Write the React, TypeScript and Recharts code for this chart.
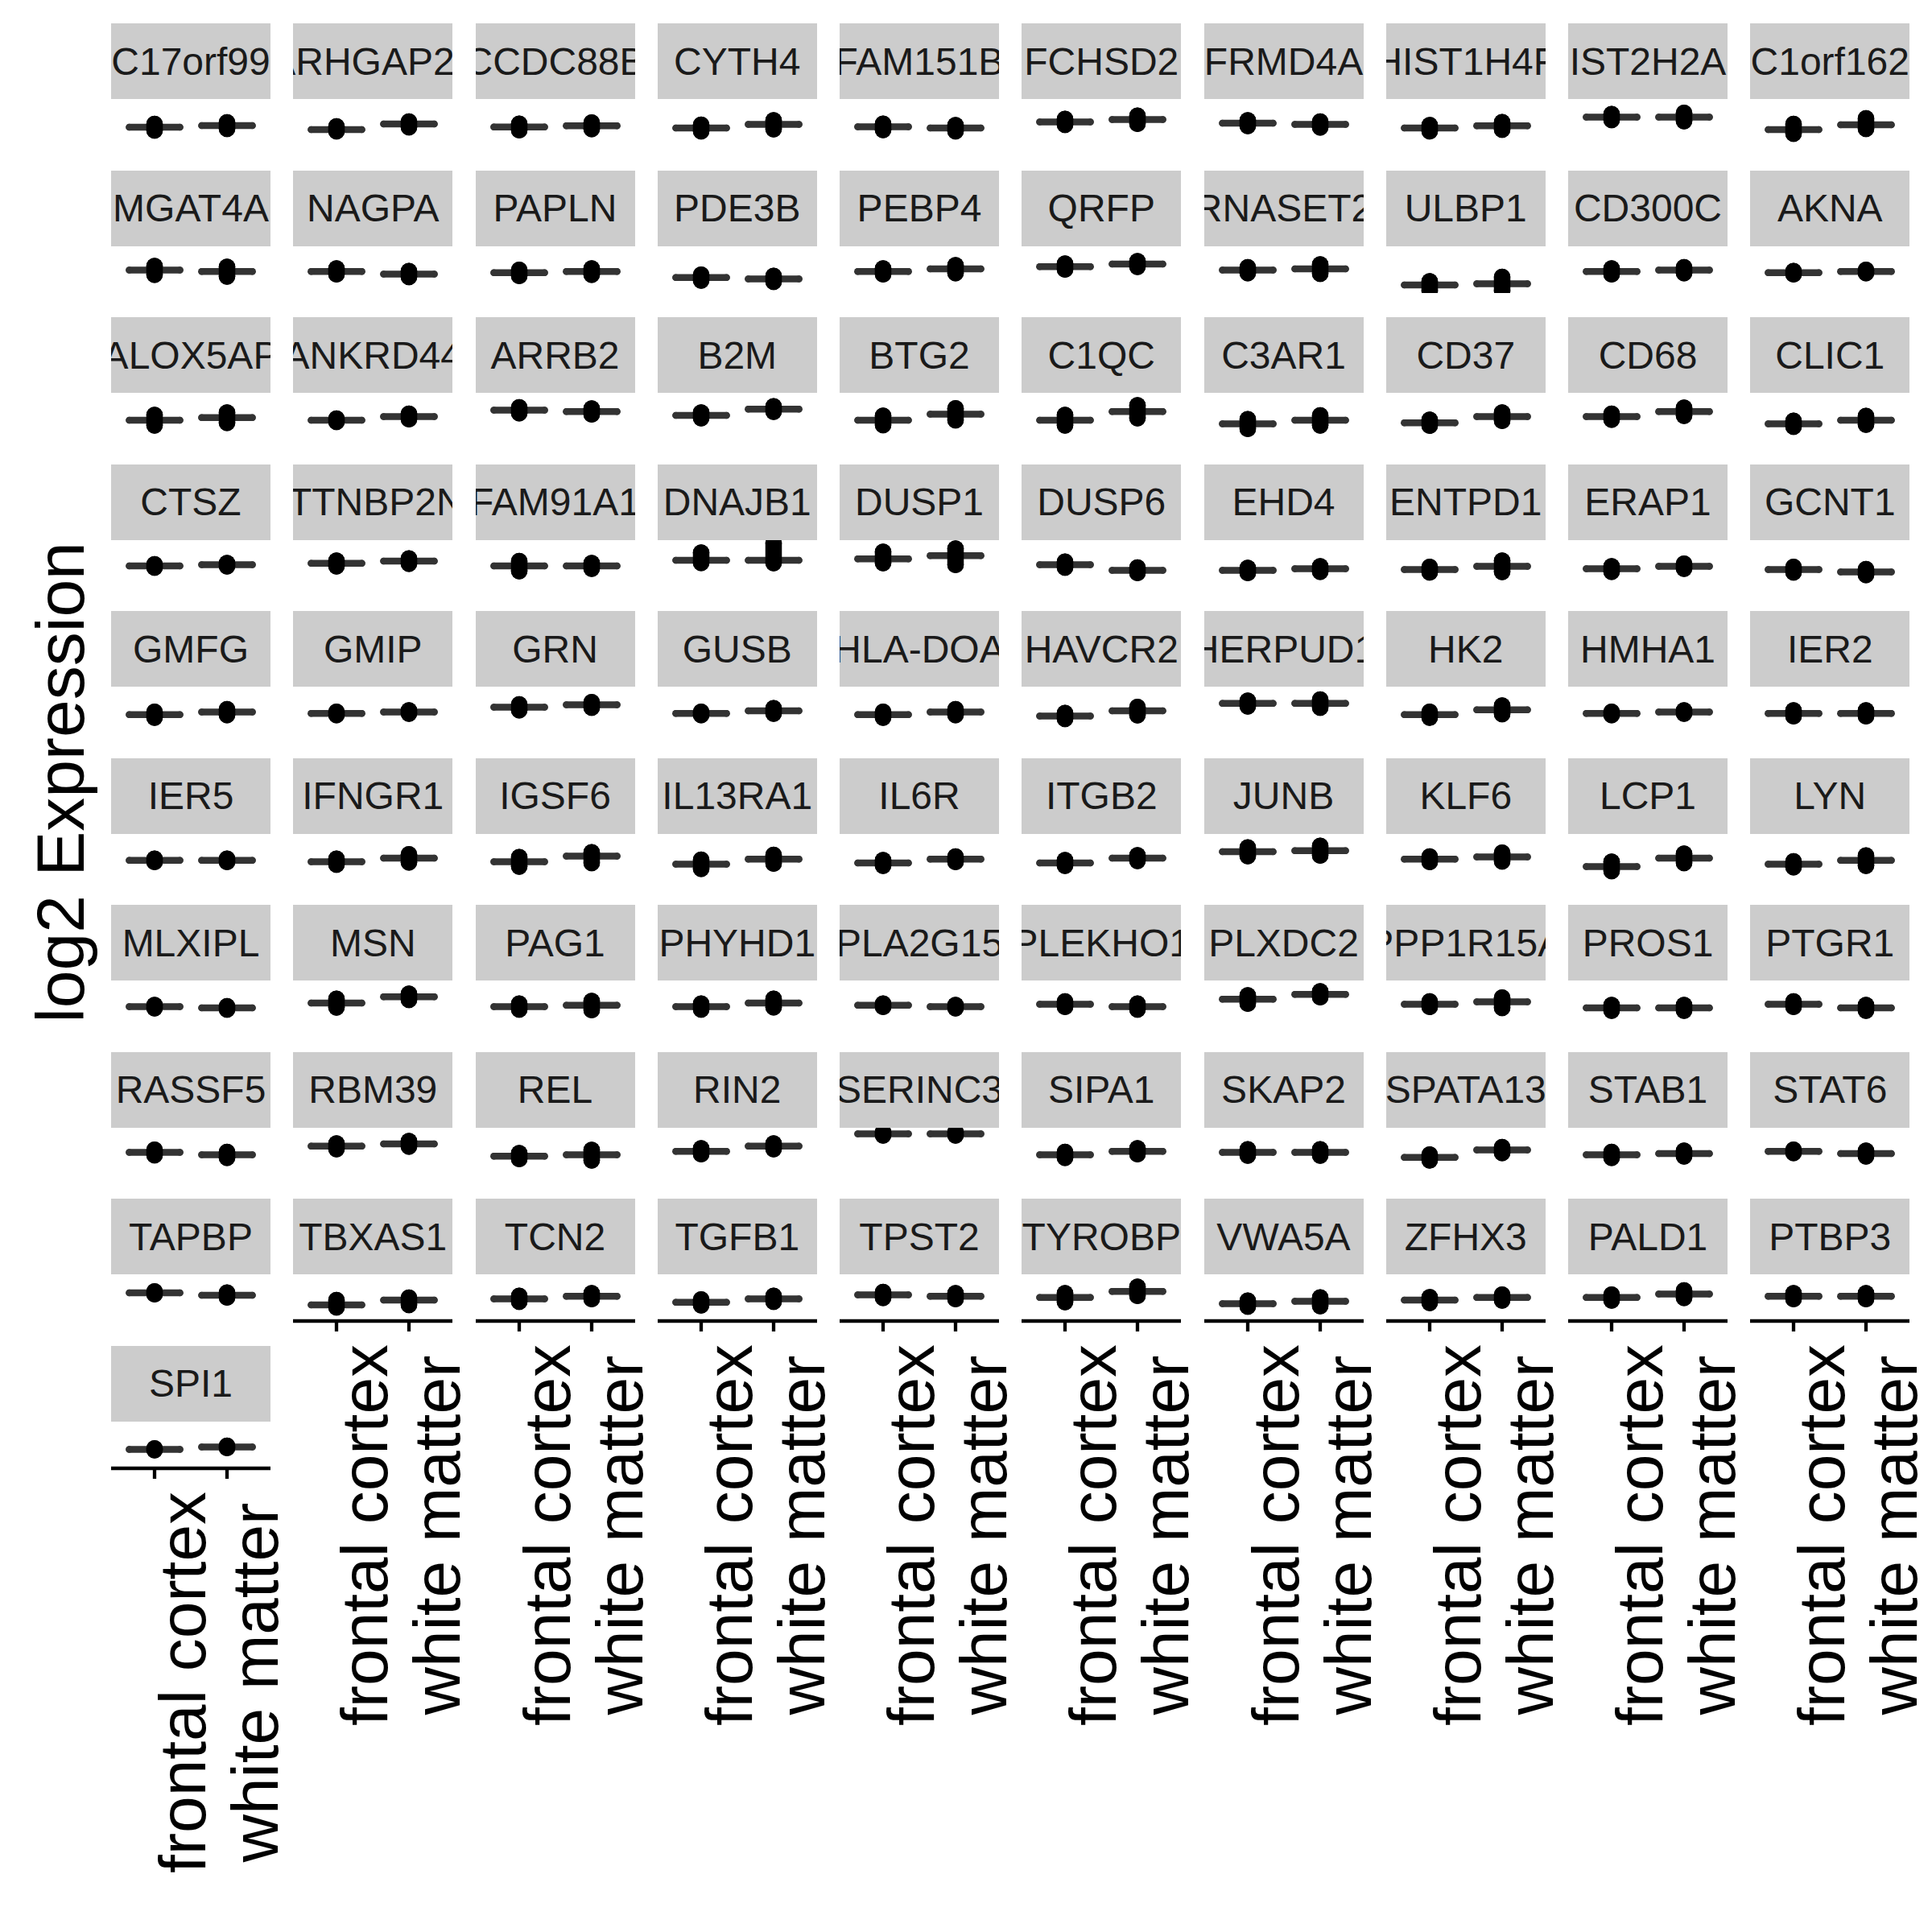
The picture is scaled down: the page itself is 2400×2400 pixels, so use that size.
import { ComposedChart, ErrorBar, Scatter, XAxis, YAxis } from "recharts";

const genes = [
  "C17orf99", "ARHGAP25", "CCDC88B", "CYTH4", "FAM151B", "FCHSD2", "FRMD4A", "HIST1H4F", "HIST2H2AC", "C1orf162",
  "MGAT4A", "NAGPA", "PAPLN", "PDE3B", "PEBP4", "QRFP", "RNASET2", "ULBP1", "CD300C", "AKNA",
  "ALOX5AP", "ANKRD44", "ARRB2", "B2M", "BTG2", "C1QC", "C3AR1", "CD37", "CD68", "CLIC1",
  "CTSZ", "CTTNBP2NL", "FAM91A1", "DNAJB1", "DUSP1", "DUSP6", "EHD4", "ENTPD1", "ERAP1", "GCNT1",
  "GMFG", "GMIP", "GRN", "GUSB", "HLA-DOA", "HAVCR2", "HERPUD1", "HK2", "HMHA1", "IER2",
  "IER5", "IFNGR1", "IGSF6", "IL13RA1", "IL6R", "ITGB2", "JUNB", "KLF6", "LCP1", "LYN",
  "MLXIPL", "MSN", "PAG1", "PHYHD1", "PLA2G15", "PLEKHO1", "PLXDC2", "PPP1R15A", "PROS1", "PTGR1",
  "RASSF5", "RBM39", "REL", "RIN2", "SERINC3", "SIPA1", "SKAP2", "SPATA13", "STAB1", "STAT6",
  "TAPBP", "TBXAS1", "TCN2", "TGFB1", "TPST2", "TYROBP", "VWA5A", "ZFHX3", "PALD1", "PTBP3",
  "SPI1",
];

const regions = ["frontal cortex", "white matter"];

// [median, lowest sample, highest sample] per gene
const frontal: number[][] = [
  [5.75, 4.75, 6.75], [5.0, 4.5, 6.0], [5.8, 4.8, 6.8], [5.5, 4.5, 6.5], [5.85, 4.9, 6.8],
  [7.4, 6.5, 8.3], [7.0, 6.1, 7.9], [5.5, 4.5, 6.4], [8.9, 8.0, 9.8], [5.0, 3.75, 6.75],
  [7.1, 5.7, 8.4], [6.7, 5.8, 7.6], [6.3, 5.3, 7.2], [4.8, 3.9, 5.7], [6.7, 5.8, 7.6],
  [8.2, 7.3, 9.1], [7.1, 6.2, 8.0], [2.5, 0.8, 3.6], [6.7, 5.8, 7.6], [6.3, 5.8, 6.8],
  [6.0, 4.4, 7.6], [6.0, 5.5, 6.5], [9.1, 8.2, 10.0], [7.5, 6.6, 8.4], [6.0, 4.5, 7.4],
  [6.0, 4.4, 7.6], [4.85, 3.3, 6.3], [5.2, 4.3, 6.1], [7.15, 6.2, 8.0], [4.85, 4.0, 5.8],
  [6.5, 6.0, 7.0], [7.3, 6.4, 8.1], [6.5, 4.9, 8.0], [8.25, 7.45, 10.6], [8.7, 7.4, 10.9],
  [6.9, 6.0, 7.8], [5.1, 4.3, 5.9], [5.4, 4.5, 6.2], [5.6, 4.7, 6.4], [5.35, 4.5, 6.2],
  [5.8, 4.9, 6.7], [6.2, 5.7, 6.7], [8.1, 7.2, 9.0], [6.2, 5.7, 6.7], [5.8, 4.9, 6.7],
  [5.4, 4.5, 6.3], [9.3, 8.4, 10.1], [5.8, 4.9, 6.7], [6.2, 5.7, 6.7], [6.2, 5.3, 7.1],
  [6.3, 5.8, 6.8], [5.9, 5.0, 6.8], [5.9, 4.4, 7.3], [5.1, 3.7, 6.5], [5.5, 4.6, 6.4],
  [5.5, 4.6, 6.4], [9.0, 7.6, 10.3], [6.7, 5.8, 7.5], [4.4, 3.0, 5.9], [5.1, 4.2, 6.0],
  [6.4, 5.9, 6.9], [7.5, 6.1, 8.8], [6.4, 5.5, 7.3], [6.4, 5.5, 7.3], [6.8, 6.3, 7.3],
  [7.15, 6.3, 8.0], [8.7, 7.3, 9.9], [7.15, 6.3, 8.0], [6.0, 5.1, 6.9], [7.15, 6.3, 8.0],
  [6.85, 6.0, 7.7], [8.8, 7.9, 9.6], [5.7, 4.8, 6.6], [7.2, 6.3, 8.1], [12.6, 12.1, 13.2],
  [6.1, 5.2, 7.0], [6.85, 5.9, 7.8], [5.3, 4.4, 6.2], [6.1, 5.2, 7.0], [7.2, 6.7, 7.7],
  [8.75, 8.3, 9.2], [5.0, 4.25, 6.5], [6.9, 6.0, 7.8], [5.8, 4.9, 6.7], [8.1, 7.2, 9.0],
  [7.3, 5.9, 8.6], [5.4, 4.5, 6.3], [6.5, 5.6, 7.4], [7.3, 6.4, 8.2], [7.7, 6.8, 8.6],
  [5.9, 5.6, 6.2],
];

const white: number[][] = [
  [6.25, 5.25, 7.25], [6.75, 5.75, 7.5], [6.2, 5.2, 7.2], [6.6, 5.1, 7.9], [5.5, 4.5, 6.4],
  [8.1, 6.8, 9.3], [6.6, 5.7, 7.5], [6.2, 5.0, 7.3], [8.9, 7.6, 10.2], [6.5, 5.25, 8.5],
  [6.7, 5.1, 8.1], [5.9, 5.0, 6.8], [6.7, 5.7, 7.6], [4.4, 3.5, 5.3], [7.5, 6.2, 8.6],
  [9.0, 8.1, 9.9], [7.5, 6.0, 8.9], [2.9, 0.8, 5.0], [7.1, 6.2, 8.0], [6.7, 6.2, 7.2],
  [6.8, 5.2, 8.4], [7.15, 6.3, 8.0], [8.7, 7.8, 9.6], [9.45, 8.6, 10.3], [7.9, 6.0, 9.7],
  [8.7, 6.6, 10.6], [6.0, 4.4, 7.5], [7.15, 5.8, 8.4], [8.7, 7.4, 9.9], [6.0, 4.6, 7.3],
  [6.9, 6.4, 7.4], [8.0, 7.2, 8.8], [6.5, 5.6, 7.4], [8.25, 7.4, 13.5], [9.7, 6.8, 11.9],
  [5.1, 4.3, 6.0], [5.6, 4.7, 6.4], [6.4, 4.6, 8.1], [6.4, 5.6, 7.2], [4.6, 3.7, 5.5],
  [6.6, 5.7, 7.5], [6.6, 6.1, 7.1], [8.9, 8.0, 9.7], [7.0, 6.1, 7.8], [6.6, 5.7, 7.5],
  [7.0, 5.6, 8.2], [9.3, 8.0, 10.5], [7.3, 6.0, 8.6], [6.6, 6.1, 7.1], [6.2, 5.3, 7.1],
  [6.3, 5.8, 6.8], [7.0, 5.7, 8.2], [7.6, 5.5, 8.8], [6.7, 5.3, 8.0], [6.7, 5.8, 7.5],
  [7.0, 6.1, 7.9], [9.3, 7.8, 10.8], [7.4, 6.0, 8.7], [7.0, 5.5, 8.4], [6.3, 4.6, 7.8],
  [6.0, 5.5, 6.5], [9.45, 8.5, 10.4], [6.8, 5.3, 8.1], [7.5, 6.2, 8.8], [6.4, 5.9, 6.9],
  [6.4, 5.5, 7.3], [10.2, 9.3, 11.1], [7.9, 6.0, 9.2], [6.0, 5.1, 6.9], [6.0, 5.1, 6.9],
  [6.1, 5.2, 7.0], [9.5, 8.7, 10.4], [6.1, 4.4, 7.6], [8.8, 7.9, 9.6], [12.6, 12.1, 13.2],
  [7.2, 6.3, 8.1], [6.85, 5.9, 7.8], [7.6, 6.7, 8.5], [6.5, 5.6, 7.4], [6.5, 5.6, 7.4],
  [8.0, 7.3, 8.8], [6.5, 5.0, 7.25], [7.7, 6.8, 8.6], [6.9, 6.0, 7.8], [7.7, 6.8, 8.6],
  [9.2, 7.8, 10.6], [6.1, 4.6, 7.3], [7.3, 6.4, 8.2], [8.4, 7.2, 9.5], [7.7, 6.8, 8.6],
  [6.65, 6.3, 7.0],
];

const FONT = '"Liberation Sans", Arial, Helvetica, sans-serif';
const COLS = 10;
const PANEL_W = 198;
const STRIP_H = 94;
const PLOT_H = 58;
const AXIS_H = 520;
const X0 = 138;
const Y0 = 29;
const DX = 226.25;
const DY = 182.5;
const BOX_HALF = 0.35;

function RegionTick(props: any) {
  const { x, y, payload } = props;
  const label = regions[payload.value - 1];
  const tx = x + 63;
  const ty = y + 251;
  return (
    <text
      x={tx}
      y={ty}
      transform={`rotate(-90 ${tx} ${ty})`}
      textAnchor="middle"
      fontSize={82}
      fontFamily={FONT}
      fill="#000"
    >
      {label}
    </text>
  );
}

function Panel({ index }: { index: number }) {
  const data = regions.map((region, k) => {
    const [median, low, high] = (k === 0 ? frontal : white)[index];
    return { pos: k + 1, region, median, spread: [median - low, high - median] };
  });
  const withAxis = index + COLS >= genes.length;
  const left = X0 + (index % COLS) * DX;
  const top = Y0 + Math.floor(index / COLS) * DY;

  return (
    <>
      <div
        style={{
          position: "absolute",
          left,
          top,
          width: PANEL_W,
          height: STRIP_H,
          background: "#CCCCCC",
          display: "flex",
          alignItems: "center",
          justifyContent: "center",
          overflow: "hidden",
          fontFamily: FONT,
          fontSize: 48,
          color: "#1A1A1A",
          whiteSpace: "nowrap",
        }}
      >
        <span>{genes[index]}</span>
      </div>
      <div
        className={withAxis ? "axis-panel" : undefined}
        style={{ position: "absolute", left, top: top + STRIP_H }}
      >
        <ComposedChart
          width={PANEL_W}
          height={PLOT_H + (withAxis ? AXIS_H : 0)}
          margin={{ top: 0, right: 0, bottom: 0, left: 0 }}
        >
          <XAxis
            type="number"
            dataKey="pos"
            domain={[0.4, 2.6]}
            ticks={[1, 2]}
            interval={0}
            allowDataOverflow
            hide={!withAxis}
            height={withAxis ? AXIS_H : 0}
            axisLine={{ stroke: "#000", strokeWidth: 4.3 }}
            tickLine={{ stroke: "#000", strokeWidth: 4.3 }}
            tickSize={13}
            tick={<RegionTick />}
          />
          <YAxis type="number" dataKey="median" domain={[0, 14.5]} allowDataOverflow hide />
          <Scatter data={data} dataKey="median" isAnimationActive={false} shape={() => <g />}>
            <ErrorBar
              dataKey={() => BOX_HALF}
              direction="x"
              width={0}
              stroke="#333333"
              strokeWidth={8.5}
              strokeLinecap="round"
              isAnimationActive={false}
            />
          </Scatter>
          <Scatter data={data} dataKey="median" isAnimationActive={false} shape={() => <g />}>
            <ErrorBar
              dataKey="spread"
              direction="y"
              width={0}
              stroke="#000000"
              strokeWidth={20.5}
              strokeLinecap="round"
              isAnimationActive={false}
            />
          </Scatter>
        </ComposedChart>
      </div>
    </>
  );
}

export default function App() {
  return (
    <div
      style={{
        position: "absolute",
        left: 0,
        top: 0,
        width: 2400,
        height: 2400,
        background: "#FFFFFF",
        overflow: "hidden",
      }}
    >
      <style>{".axis-panel .recharts-surface, .axis-panel .recharts-wrapper { overflow: visible; }"}</style>
      <svg width={160} height={2400} style={{ position: "absolute", left: 0, top: 0 }}>
        <text
          x={104}
          y={972}
          transform="rotate(-90 104 972)"
          textAnchor="middle"
          fontSize={84}
          fontFamily={FONT}
          fill="#000"
        >
          log2 Expression
        </text>
      </svg>
      {genes.map((g, i) => (
        <Panel key={g} index={i} />
      ))}
    </div>
  );
}
